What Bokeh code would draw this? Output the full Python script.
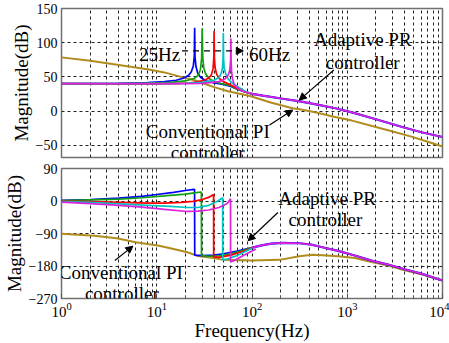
from bokeh.plotting import figure
from bokeh.layouts import column
from bokeh.models import FixedTicker, Label, Arrow, NormalHead, Range1d
from bokeh.embed import file_html
from bokeh.resources import INLINE

FONT = "Liberation Serif"

# ---------------- magnitude panel data (Hz, dB) ----------------
pi_mag_f = [1, 2, 4, 8, 12, 18, 25, 30, 40, 56, 95, 160, 267, 340, 500, 700,
            1120, 1950, 3000, 4700, 7000, 10000]
pi_mag = [78.5, 73.5, 67.5, 61, 56.5, 50, 45, 41, 35, 29, 22, 12, 4, 2, -3, -8,
          -14, -23, -30, -37.5, -45, -52]

pr25_mag_f = [1, 4, 8, 12, 16, 19, 21.5, 23, 24.2, 24.8, 25, 25.2, 25.8, 27, 29,
              33, 40, 50, 60, 70, 85, 100]
pr25_mag = [40, 40.5, 41.5, 43, 45, 48, 52, 57, 66, 80, 122, 80, 65, 55, 49,
            44, 41, 39, 36, 32, 28, 25]
pr30_mag_f = [1, 4, 8, 14, 20, 25, 27.5, 28.8, 29.6, 30, 30.4, 31.2, 32.5, 35,
              40, 48, 60, 70, 85, 100]
pr30_mag = [40, 40.3, 41, 42, 44, 48, 53, 61, 78, 121, 78, 63, 55, 48,
            43, 40, 37, 32, 28, 25]
pr40_mag_f = [1, 8, 15, 22, 30, 35, 37.5, 39, 39.7, 40, 40.3, 41, 42.5, 45, 50,
              58, 70, 85, 100]
pr40_mag = [40, 39.5, 40, 41, 44, 48, 53, 62, 78, 117, 78, 63, 54, 48, 43,
            39, 33, 28, 25]
pr50_mag_f = [1, 10, 20, 30, 40, 45, 47.5, 49, 49.7, 50, 50.3, 51, 53, 56, 62,
              70, 85, 100]
pr50_mag = [40, 40, 40.5, 42, 45, 49, 55, 63, 78, 114, 78, 63, 54, 47, 41,
            36, 29, 25]
pr60_mag_f = [1, 10, 20, 30, 45, 52, 56, 58.5, 59.7, 60, 60.3, 61, 62.5, 65, 70,
              80, 100]
pr60_mag = [40, 40, 40, 40.5, 43, 47, 52, 60, 75, 106, 75, 58, 47, 39, 34,
            29, 25]
# shared high-frequency part of the adaptive PR magnitude
pr_mag_tail_f = [100, 130, 210, 320, 500, 750, 1120, 2000, 3700, 6000, 10000]
pr_mag_tail = [25, 22.5, 18, 14, 9, 4, -2, -12, -23, -31, -38]

# ---------------- phase panel data (Hz, deg) ----------------
pi_ph_f = [1, 2.2, 3.8, 6, 10.6, 15, 21, 26.6, 39.6, 50, 100, 195, 314, 430, 548,
           800, 1200, 1800, 2690, 4000, 6000, 10000]
pi_ph = [-91, -96, -103, -114, -124, -133, -142, -152, -158, -163, -165, -163,
         -153, -149, -150, -153, -158, -169, -179, -192, -203, -220]

pr25_ph_f = [1, 2, 4, 7, 10, 15, 20, 24.5, 24.95, 25.05, 30, 40, 50, 70, 100]
pr25_ph = [2, 4, 8, 13, 18, 24, 29, 32, 32, -150, -151, -150, -146, -139, -129]
pr30_ph_f = [1, 2, 4, 7, 12, 20, 26, 29.4, 29.5, 35, 45, 60, 80, 100]
pr30_ph = [1, 3, 5, 9, 14, 19, 23, 25, -151, -153, -152, -146, -137, -129]
pr40_ph_f = [1, 2, 4, 8, 12, 18, 24, 30, 35, 39.5, 39.6, 45, 60, 80, 100]
pr40_ph = [-1, -2, -4, -6, -6, -4, -1, 4, 10, 18, -155, -156, -150, -140, -130]
pr50_ph_f = [1, 2, 4, 8, 14, 21, 27, 35, 42, 49.2, 49.3, 55, 70, 100]
pr50_ph = [-2, -4, -8, -12, -15, -18, -18, -12, -3, 9, -163, -161, -151, -131]
pr60_ph_f = [1, 2, 4, 7, 12, 21, 27, 35, 45, 55, 59.5, 59.6, 65, 81, 110]
pr60_ph = [-3, -7, -12, -17, -23, -29, -28, -25, -18, -7, 6, -168, -165, -151, -133]
pr_ph_tail_f = [100, 130, 160, 210, 314, 420, 548, 800, 1200, 1800, 2690, 4000,
                6000, 10000]
pr_ph_tail = [-129, -122, -118, -116, -117, -121, -128, -138, -151, -165, -176,
              -189, -201, -220]

decades = [1, 10, 100, 1000, 10000]
minor = [m * d for d in [1, 10, 100, 1000] for m in range(2, 10)]
mag_ticks = [-50, 0, 50, 100, 150]
ph_ticks = [-270, -180, -90, 0, 90]

PI_COLOR = "#b08c1e"
PR_COLORS = ["#0000ff", "#11a011", "#ff0000", "#00c4c4", "#dd22dd"]


def make_panel(height, ylo, yhi, yticks, top, bottom):
    p = figure(width=449, height=height, x_axis_type="log",
               x_range=Range1d(1, 10000), y_range=Range1d(ylo, yhi),
               output_backend="svg", toolbar_location=None,
               min_border_left=56, min_border_right=7,
               min_border_top=top, min_border_bottom=bottom)
    p.background_fill_color = "white"
    p.border_fill_color = "white"
    p.outline_line_color = "#707070"
    p.outline_line_width = 1.5
    p.xaxis.ticker = FixedTicker(ticks=decades, minor_ticks=minor)
    p.yaxis.ticker = FixedTicker(ticks=yticks)
    for g in (p.xgrid, p.ygrid):
        g.grid_line_color = "#222222"
        g.grid_line_dash = "3 3"
        g.grid_line_width = 1
    p.xgrid.minor_grid_line_color = "#222222"
    p.xgrid.minor_grid_line_dash = "3 3"
    p.xgrid.minor_grid_line_width = 1
    p.yaxis.axis_line_color = None
    p.yaxis.major_tick_in = 0
    p.yaxis.major_tick_out = 0
    p.yaxis.minor_tick_line_color = None
    p.yaxis.major_label_text_font = FONT
    p.yaxis.major_label_text_font_size = "14px"
    p.yaxis.major_label_text_color = "black"
    p.yaxis.major_label_standoff = 4
    p.yaxis.axis_label = "Magnitude(dB)"
    p.yaxis.axis_label_text_font = FONT
    p.yaxis.axis_label_text_font_size = "19px"
    p.yaxis.axis_label_text_font_style = "normal"
    p.yaxis.axis_label_text_color = "black"
    p.yaxis.axis_label_standoff = 1
    return p


def add_label(p, x, y, text, align="center"):
    p.add_layout(Label(x=x, y=y, text=text, text_font=FONT, text_font_size="19px",
                       text_align=align, text_baseline="alphabetic",
                       text_color="black"))


def add_arrow(p, x0, y0, x1, y1, dash="solid"):
    p.add_layout(Arrow(end=NormalHead(size=7, fill_color="black", line_color="black"),
                       x_start=x0, y_start=y0, x_end=x1, y_end=y1,
                       line_color="black", line_width=1.2, line_dash=dash))


# ---------------- magnitude panel ----------------
p1 = make_panel(162, -68, 150, mag_ticks, 8, 5)
p1.xaxis.visible = False

p1.line(pi_mag_f, pi_mag, line_color=PI_COLOR, line_width=2)
for (fx, vy), c in zip([(pr25_mag_f, pr25_mag), (pr30_mag_f, pr30_mag),
                        (pr40_mag_f, pr40_mag), (pr50_mag_f, pr50_mag),
                        (pr60_mag_f, pr60_mag)], PR_COLORS):
    p1.line(fx, vy, line_color=c, line_width=1.7)
p1.line(pr_mag_tail_f, pr_mag_tail, line_color=PR_COLORS[0], line_width=2.2)
p1.line(pr_mag_tail_f, pr_mag_tail, line_color=PR_COLORS[4], line_width=1.7)

add_label(p1, 6.5, 83, "25Hz", align="left")
add_arrow(p1, 18.4, 88, 81, 88, dash="6 5")
add_label(p1, 93, 83, "60Hz", align="left")
add_label(p1, 1455, 104, "Adaptive PR")
add_label(p1, 1455, 71.5, "controller")
add_arrow(p1, 723, 60, 313, 16)
add_label(p1, 34.3, -30, "Conventional PI")
add_label(p1, 34.3, -61, "controller")
add_arrow(p1, 153, -20.5, 267, 1.5)

# ---------------- phase panel ----------------
p2 = make_panel(181, -270, 90, ph_ticks, 6, 44)
p2.xaxis.axis_line_color = None
p2.xaxis.major_tick_in = 5
p2.xaxis.major_tick_out = 0
p2.xaxis.minor_tick_in = 3
p2.xaxis.minor_tick_out = 0
p2.xaxis.major_tick_line_color = "#555555"
p2.xaxis.minor_tick_line_color = "#555555"
p2.xaxis.major_label_text_font = FONT
p2.xaxis.major_label_text_font_size = "15px"
p2.xaxis.major_label_text_color = "black"
p2.xaxis.major_label_standoff = 4
p2.xaxis.axis_label = "Frequency(Hz)"
p2.xaxis.axis_label_text_font = FONT
p2.xaxis.axis_label_text_font_size = "19px"
p2.xaxis.axis_label_text_font_style = "normal"
p2.xaxis.axis_label_text_color = "black"
p2.xaxis.axis_label_standoff = 0

p2.line(pi_ph_f, pi_ph, line_color=PI_COLOR, line_width=2)
for (fx, vy), c in zip([(pr25_ph_f, pr25_ph), (pr30_ph_f, pr30_ph),
                        (pr40_ph_f, pr40_ph), (pr50_ph_f, pr50_ph),
                        (pr60_ph_f, pr60_ph)], PR_COLORS):
    p2.line(fx, vy, line_color=c, line_width=1.7)
p2.line(pr_ph_tail_f, pr_ph_tail, line_color=PR_COLORS[0], line_width=2.2)
p2.line(pr_ph_tail_f, pr_ph_tail, line_color=PR_COLORS[4], line_width=1.7)

add_label(p2, 616, 7, "Adaptive PR")
add_label(p2, 590, -52, "controller")
add_arrow(p2, 187, -32, 91, -110)
add_label(p2, 4.2, -197, "Conventional PI")
add_label(p2, 4.3, -256, "controller")
add_arrow(p2, 3.63, -165, 5.62, -125)

layout = column(p1, p2, spacing=0)
open("out.html", "w").write(file_html(layout, INLINE))
